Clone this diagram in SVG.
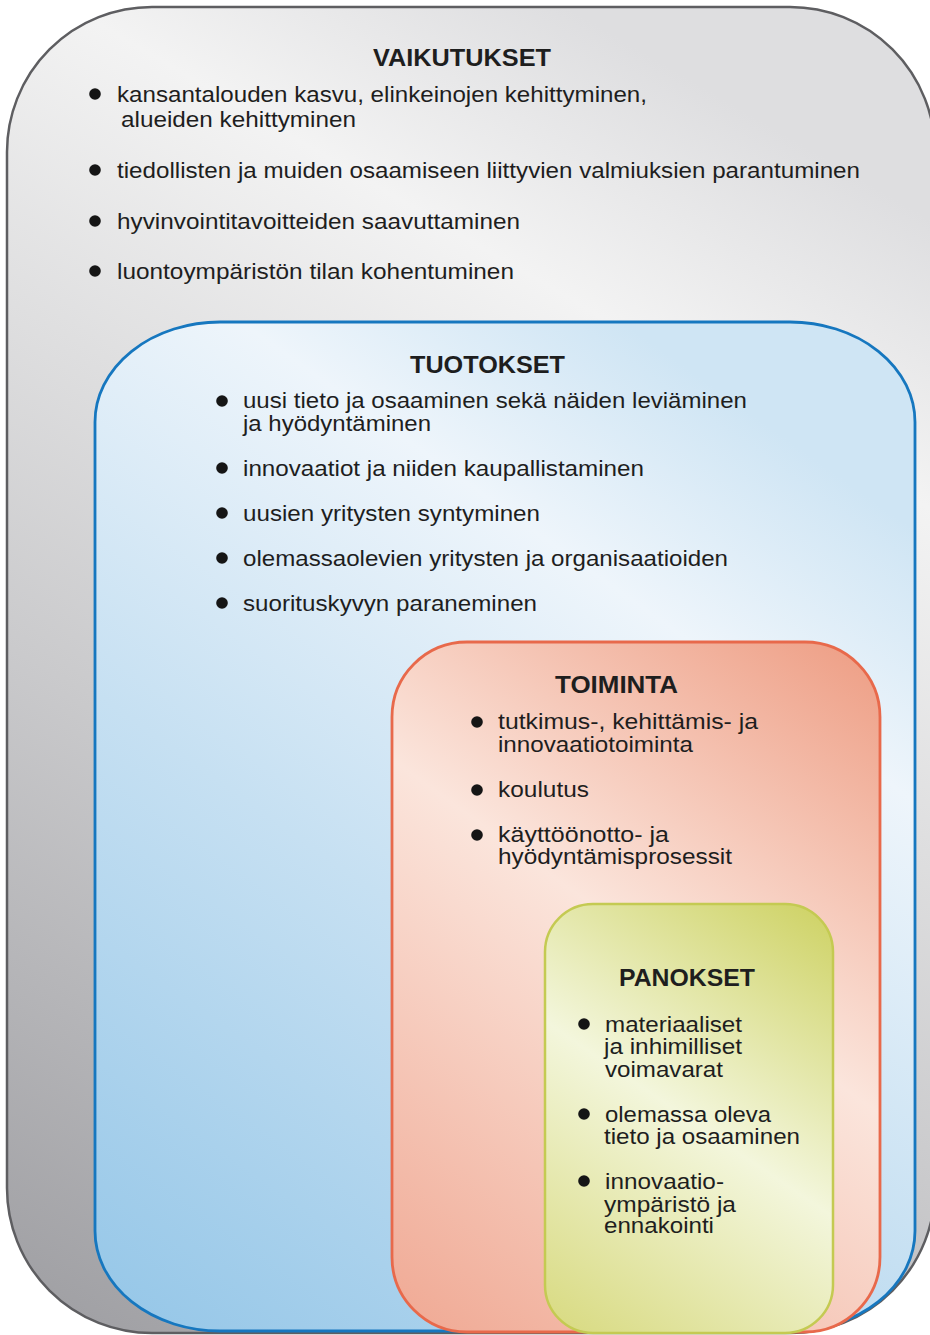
<svg xmlns="http://www.w3.org/2000/svg" width="930" height="1335" viewBox="0 0 930 1335">
<defs>
<linearGradient id="gGray" gradientUnits="userSpaceOnUse" x1="60" y1="1320" x2="760" y2="120">
<stop offset="0" stop-color="#a0a0a4"/>
<stop offset="0.4" stop-color="#cacacc"/>
<stop offset="0.82" stop-color="#f3f3f3"/>
<stop offset="1" stop-color="#dedee0"/>
</linearGradient>
<linearGradient id="gBlue" gradientUnits="userSpaceOnUse" x1="120" y1="1320" x2="760" y2="420">
<stop offset="0" stop-color="#96c7e8"/>
<stop offset="0.45" stop-color="#c6e0f2"/>
<stop offset="0.8" stop-color="#eef5fb"/>
<stop offset="1" stop-color="#cfe5f4"/>
</linearGradient>
<linearGradient id="gRed" gradientUnits="userSpaceOnUse" x1="880" y1="660" x2="400" y2="1320">
<stop offset="0" stop-color="#ee9f86"/>
<stop offset="0.45" stop-color="#fbe5dc"/>
<stop offset="1" stop-color="#f0aa95"/>
</linearGradient>
<linearGradient id="gYellow" gradientUnits="userSpaceOnUse" x1="833" y1="910" x2="548" y2="1330">
<stop offset="0" stop-color="#ced264"/>
<stop offset="0.5" stop-color="#f3f6dc"/>
<stop offset="1" stop-color="#d8da80"/>
</linearGradient>
</defs>
<style>
text{font-family:"Liberation Sans",Arial,Helvetica,sans-serif;fill:#1e1e1e;}
.t{font-weight:bold;font-size:23.5px;}
.b{font-size:22.5px;}
.c{font-size:22.5px;}
.dot{fill:#151515;}
</style>
<g id="vaikutukset">
<rect x="7" y="7" width="928" height="1326" rx="145" ry="145" fill="url(#gGray)" stroke="#5e5e61" stroke-width="2.5"/>
<text class="t" x="373" y="66" textLength="178" lengthAdjust="spacingAndGlyphs">VAIKUTUKSET</text>
<circle class="dot" cx="95" cy="94" r="5.8"/>
<text class="b" x="117" y="102" textLength="530" lengthAdjust="spacingAndGlyphs">kansantalouden kasvu, elinkeinojen kehittyminen,</text>
<text class="b" x="121" y="127" textLength="235" lengthAdjust="spacingAndGlyphs">alueiden kehittyminen</text>
<circle class="dot" cx="95" cy="170" r="5.8"/>
<text class="b" x="117" y="178" textLength="743" lengthAdjust="spacingAndGlyphs">tiedollisten ja muiden osaamiseen liittyvien valmiuksien parantuminen</text>
<circle class="dot" cx="95" cy="221" r="5.8"/>
<text class="b" x="117" y="229" textLength="403" lengthAdjust="spacingAndGlyphs">hyvinvointitavoitteiden saavuttaminen</text>
<circle class="dot" cx="95" cy="271" r="5.8"/>
<text class="b" x="117" y="279" textLength="397" lengthAdjust="spacingAndGlyphs">luontoympäristön tilan kohentuminen</text>
</g>
<g id="tuotokset">
<rect x="95" y="322" width="820" height="1009" rx="125" ry="100" fill="url(#gBlue)" stroke="#1677bf" stroke-width="2.8"/>
<text class="t" x="410" y="373" textLength="155" lengthAdjust="spacingAndGlyphs">TUOTOKSET</text>
<circle class="dot" cx="222" cy="401" r="5.8"/>
<text class="b" x="243" y="408" textLength="504" lengthAdjust="spacingAndGlyphs">uusi tieto ja osaaminen sekä näiden leviäminen</text>
<text class="b" x="243" y="431" textLength="188" lengthAdjust="spacingAndGlyphs">ja hyödyntäminen</text>
<circle class="dot" cx="222" cy="468" r="5.8"/>
<text class="b" x="243" y="476" textLength="401" lengthAdjust="spacingAndGlyphs">innovaatiot ja niiden kaupallistaminen</text>
<circle class="dot" cx="222" cy="513" r="5.8"/>
<text class="b" x="243" y="521" textLength="297" lengthAdjust="spacingAndGlyphs">uusien yritysten syntyminen</text>
<circle class="dot" cx="222" cy="558" r="5.8"/>
<text class="b" x="243" y="566" textLength="485" lengthAdjust="spacingAndGlyphs">olemassaolevien yritysten ja organisaatioiden</text>
<circle class="dot" cx="222" cy="603" r="5.8"/>
<text class="b" x="243" y="611" textLength="294" lengthAdjust="spacingAndGlyphs">suorituskyvyn paraneminen</text>
</g>
<g id="toiminta">
<rect x="392" y="642" width="488" height="690" rx="75" ry="75" fill="url(#gRed)" stroke="#e8694b" stroke-width="2.8"/>
<text class="t" x="555" y="693" textLength="123" lengthAdjust="spacingAndGlyphs">TOIMINTA</text>
<circle class="dot" cx="477" cy="722" r="5.8"/>
<text class="c" x="498" y="729" textLength="260" lengthAdjust="spacingAndGlyphs">tutkimus-, kehittämis- ja</text>
<text class="c" x="498" y="752" textLength="195" lengthAdjust="spacingAndGlyphs">innovaatiotoiminta</text>
<circle class="dot" cx="477" cy="790" r="5.8"/>
<text class="c" x="498" y="797" textLength="91" lengthAdjust="spacingAndGlyphs">koulutus</text>
<circle class="dot" cx="477" cy="835" r="5.8"/>
<text class="c" x="498" y="842" textLength="171" lengthAdjust="spacingAndGlyphs">käyttöönotto- ja</text>
<text class="c" x="498" y="864" textLength="234" lengthAdjust="spacingAndGlyphs">hyödyntämisprosessit</text>
</g>
<g id="panokset">
<rect x="545" y="904" width="288" height="429" rx="48" ry="48" fill="url(#gYellow)" stroke="#c4ca52" stroke-width="2.5"/>
<text class="t" x="619" y="986" textLength="136" lengthAdjust="spacingAndGlyphs">PANOKSET</text>
<circle class="dot" cx="584" cy="1024" r="5.8"/>
<text class="c" x="605" y="1032" textLength="137" lengthAdjust="spacingAndGlyphs">materiaaliset</text>
<text class="c" x="604" y="1054" textLength="138" lengthAdjust="spacingAndGlyphs">ja inhimilliset</text>
<text class="c" x="605" y="1077" textLength="118" lengthAdjust="spacingAndGlyphs">voimavarat</text>
<circle class="dot" cx="584" cy="1114" r="5.8"/>
<text class="c" x="605" y="1122" textLength="166" lengthAdjust="spacingAndGlyphs">olemassa oleva</text>
<text class="c" x="604" y="1144" textLength="196" lengthAdjust="spacingAndGlyphs">tieto ja osaaminen</text>
<circle class="dot" cx="584" cy="1181" r="5.8"/>
<text class="c" x="605" y="1189" textLength="119" lengthAdjust="spacingAndGlyphs">innovaatio-</text>
<text class="c" x="604" y="1212" textLength="132" lengthAdjust="spacingAndGlyphs">ympäristö ja</text>
<text class="c" x="604" y="1233" textLength="110" lengthAdjust="spacingAndGlyphs">ennakointi</text>
</g>
<g id="connectors"/>
</svg>
